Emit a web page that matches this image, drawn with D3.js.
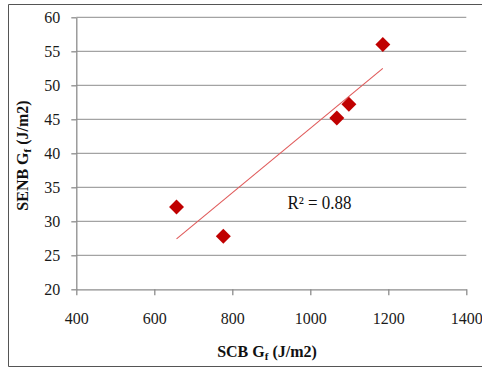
<!DOCTYPE html>
<html>
<head>
<meta charset="utf-8">
<script src="https://cdn.jsdelivr.net/npm/d3@7/dist/d3.min.js"></script>
<style>
  html, body { margin: 0; padding: 0; background: #fff; }
  svg { display: block; }
</style>
</head>
<body>
<svg id="chart" width="482" height="368"></svg>
<script>
// ---- data ----
const scbGf  = [657, 777, 1068, 1099, 1186];     // x: SCB Gf (J/m2)
const senbGf = [32.1, 27.8, 45.2, 47.2, 56.0];   // y: SENB Gf (J/m2)
const xTicks = [400, 600, 800, 1000, 1200, 1400];
const yTicks = [20, 25, 30, 35, 40, 45, 50, 55, 60];
const xDomain = [400, 1400];
const yDomain = [20, 60];
const r2Label = "R² = 0.88";

const svg = d3.select("#chart");
const serif = "'Liberation Serif', 'Times New Roman', serif";

// outer frame (right edge cropped in reference)
svg.append("path")
  .attr("d", "M490,4.5 H8.5 V366.5 H490")
  .attr("fill", "none").attr("stroke", "#555").attr("stroke-width", 1);

const x = d3.scaleLinear().domain(xDomain).range([76.3, 466.3]);
const y = d3.scaleLinear().domain(yDomain).range([289.3, 17.3]);

// horizontal gridlines
svg.append("g").selectAll("line").data(yTicks.filter(v => v !== yDomain[0])).join("line")
  .attr("x1", x(xDomain[0])).attr("x2", x(xDomain[1]))
  .attr("y1", d => y(d)).attr("y2", d => y(d))
  .attr("stroke", "#a3a3a3").attr("stroke-width", 1.3);

// axes
const gx = svg.append("g").attr("transform", `translate(0,${y(yDomain[0])})`)
  .call(d3.axisBottom(x).tickValues(xTicks).tickSize(6).tickSizeOuter(0).tickPadding(17).tickFormat(d3.format("d")));
const gy = svg.append("g").attr("transform", `translate(${x(xDomain[0])},0)`)
  .call(d3.axisLeft(y).tickValues(yTicks).tickSize(5).tickSizeOuter(0).tickPadding(11).tickFormat(d3.format("d")));

[gx, gy].forEach(g => {
  g.selectAll("path.domain").attr("stroke", "#8c8c8c").attr("stroke-width", 1.3);
  g.selectAll(".tick line").attr("stroke", "#8c8c8c").attr("stroke-width", 1.3);
  g.selectAll(".tick text").attr("font-family", serif).attr("font-size", 16).attr("fill", "#1a1a1a");
});

// linear regression trendline computed from the data
const n = scbGf.length;
const mx = d3.mean(scbGf), my = d3.mean(senbGf);
let sxy = 0, sxx = 0;
for (let i = 0; i < n; i++) {
  sxy += (scbGf[i] - mx) * (senbGf[i] - my);
  sxx += (scbGf[i] - mx) ** 2;
}
const slope = sxy / sxx, intercept = my - slope * mx;
const [xmin, xmax] = d3.extent(scbGf);
svg.append("line")
  .attr("x1", x(xmin)).attr("y1", y(intercept + slope * xmin))
  .attr("x2", x(xmax)).attr("y2", y(intercept + slope * xmax))
  .attr("stroke", "#e05a5a").attr("stroke-width", 1.1);

// markers (diamonds)
const sym = d3.symbol(d3.symbolSquare, 112);
svg.append("g").selectAll("path").data(d3.range(n)).join("path")
  .attr("d", sym)
  .attr("transform", i => `translate(${x(scbGf[i])},${y(senbGf[i])}) rotate(45)`)
  .attr("fill", "#c00000");

// R² label
svg.append("text")
  .attr("x", 287.5).attr("y", 208.5)
  .attr("font-family", serif).attr("font-size", 18).attr("fill", "#111")
  .attr("textLength", 64).attr("lengthAdjust", "spacingAndGlyphs")
  .text(r2Label);

// axis titles
const xt = svg.append("text")
  .attr("x", 267).attr("y", 356.7).attr("text-anchor", "middle")
  .attr("font-family", serif).attr("font-size", 16).attr("font-weight", "bold").attr("fill", "#111");
xt.append("tspan").text("SCB G");
xt.append("tspan").attr("font-size", 11).attr("dy", 3).text("f");
xt.append("tspan").attr("dy", -3).text(" (J/m2)");

const yt = svg.append("text")
  .attr("transform", "translate(28,155.5) rotate(-90)").attr("text-anchor", "middle")
  .attr("font-family", serif).attr("font-size", 16).attr("font-weight", "bold").attr("fill", "#111");
yt.append("tspan").text("SENB G");
yt.append("tspan").attr("font-size", 11).attr("dy", 3).text("f");
yt.append("tspan").attr("dy", -3).text(" (J/m2)");
</script>
</body>
</html>
